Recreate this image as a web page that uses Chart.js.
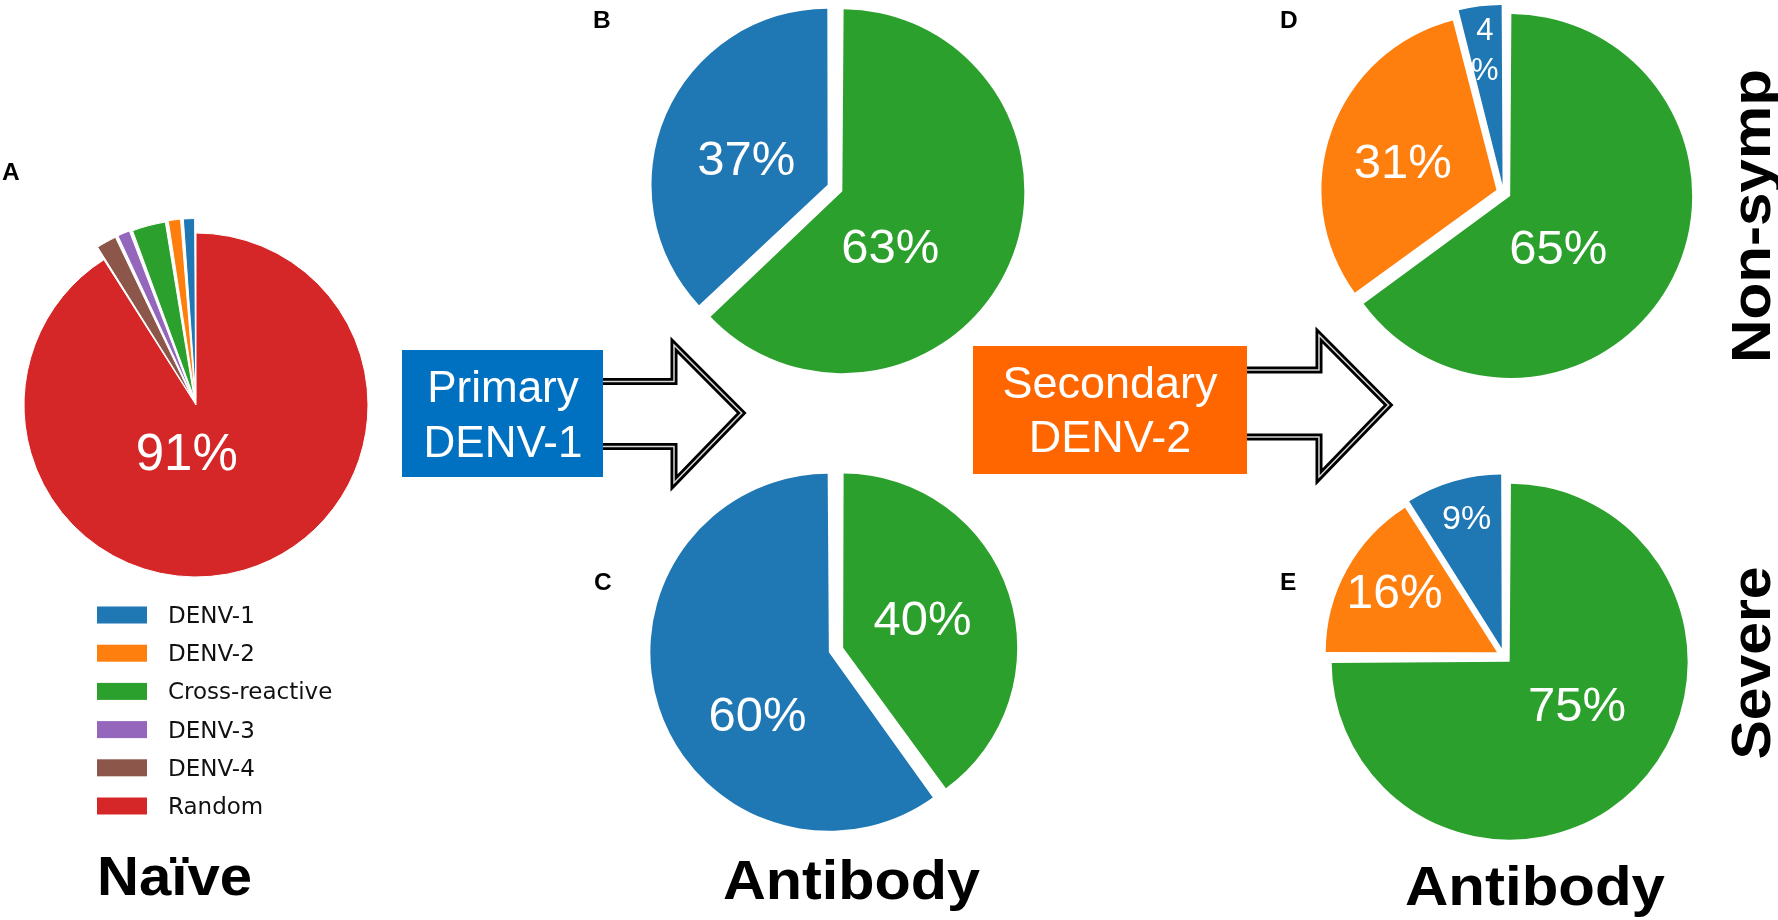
<!DOCTYPE html>
<html>
<head>
<meta charset="utf-8">
<title>Antibody repertoire pies</title>
<script src="https://cdn.jsdelivr.net/npm/chart.js@4.4.0/dist/chart.umd.min.js"></script>
<style>
  html, body { margin: 0; padding: 0; background: #fff; }
  #stage { position: relative; width: 1778px; height: 920px; overflow: hidden; background: #fff; }
  #stage canvas { position: absolute; }
  #overlay { position: absolute; left: 0; top: 0; pointer-events: none; }
  .sans { font-family: 'Liberation Sans', Arial, Helvetica, sans-serif; }
</style>
</head>
<body>
<div id="stage">
  <canvas id="pieA"></canvas>
  <canvas id="pieB"></canvas>
  <canvas id="pieC"></canvas>
  <canvas id="pieD"></canvas>
  <canvas id="pieE"></canvas>
  <svg id="overlay" width="1778" height="920" xmlns="http://www.w3.org/2000/svg">
    <!-- arrows (drawn before the boxes so the boxes cover the shaft ends) -->
    <g fill="#fff" stroke-linejoin="miter">
      <path d="M600,381.5 H674 V345 L741.7,413 L674,483 V446.5 H600" stroke="#000" stroke-width="7"/>
      <path d="M600,381.5 H674 V345 L741.7,413 L674,483 V446.5 H600" stroke="#d8d8d8" stroke-width="1.5" fill="none"/>
      <path d="M1244,370 H1319 V335 L1388.6,405 L1319,477 V437 H1244" stroke="#000" stroke-width="7"/>
      <path d="M1244,370 H1319 V335 L1388.6,405 L1319,477 V437 H1244" stroke="#d8d8d8" stroke-width="1.5" fill="none"/>
    </g>
    <!-- infection boxes -->
    <rect x="402" y="350" width="201" height="127" fill="#0070c0"/>
    <text class="sans" x="503" y="402" font-size="44" fill="#fff" text-anchor="middle">Primary</text>
    <text class="sans" x="503" y="457" font-size="44" fill="#fff" text-anchor="middle">DENV-1</text>
    <rect x="973" y="346" width="274" height="128" fill="#ff6600"/>
    <text class="sans" x="1110" y="398" font-size="45" fill="#fff" text-anchor="middle">Secondary</text>
    <text class="sans" x="1110" y="452" font-size="45" fill="#fff" text-anchor="middle">DENV-2</text>
    <!-- panel letters -->
    <g class="sans" font-size="24.5" font-weight="bold" fill="#000">
      <text x="2" y="180">A</text>
      <text x="593" y="28">B</text>
      <text x="594" y="590">C</text>
      <text x="1280" y="28">D</text>
      <text x="1280" y="590">E</text>
    </g>
    <!-- titles -->
    <g class="sans" font-size="56" font-weight="bold" fill="#000">
      <text x="97" y="895" textLength="155" lengthAdjust="spacingAndGlyphs">Naïve</text>
      <text x="851.5" y="899" text-anchor="middle" textLength="257" lengthAdjust="spacingAndGlyphs">Antibody</text>
      <text x="1535" y="905" text-anchor="middle" textLength="260" lengthAdjust="spacingAndGlyphs">Antibody</text>
      <text transform="translate(1770,216) rotate(-90)" text-anchor="middle" textLength="294" lengthAdjust="spacingAndGlyphs">Non-symp</text>
      <text transform="translate(1770,663) rotate(-90)" text-anchor="middle" textLength="193" lengthAdjust="spacingAndGlyphs">Severe</text>
    </g>
    <g id="legend"></g>
  </svg>
</div>
<script>
// categories, in legend order, with their colours
const categories = ['DENV-1', 'DENV-2', 'Cross-reactive', 'DENV-3', 'DENV-4', 'Random'];
const catColors = ['#1f77b4', '#ff7f0e', '#2ca02c', '#9467bd', '#8c564b', '#d62728'];

// A - naive repertoire (%)
const naiveVals = [1.2, 1.3, 3.2, 1.3, 2.0, 91.0];

// B / C - after primary DENV-1 infection (%)
const primaryCats = ['DENV-1', 'Cross-reactive'];
const primaryBVals = [37, 63];
const primaryCVals = [60, 40];

// D / E - after secondary DENV-2 infection (%)
const secondaryCats = ['DENV-1', 'DENV-2', 'Cross-reactive'];
const nonSympVals = [4, 31, 65];
const severeVals = [9, 16, 75];

function colorOf(cat) {
    return catColors[categories.indexOf(cat)];
}

// white percentage labels, placed as fractions of the pie radius from its centre
const pctLabels = {
    id: 'pctLabels',
    afterDatasetsDraw(chart, args, opts) {
        const meta = chart.getDatasetMeta(0);
        if (!meta.data.length || !opts.spots) return;
        const { x, y, outerRadius } = meta.data[0];
        const values = chart.data.datasets[0].data;
        const ctx = chart.ctx;
        ctx.save();
        ctx.fillStyle = '#fff';
        ctx.textAlign = 'center';
        ctx.textBaseline = 'middle';
        opts.spots.forEach(s => {
            const i = chart.data.labels.indexOf(s.cat);
            const txt = Math.round(values[i]);
            const px = x + s.at[0] * outerRadius;
            const py = y + s.at[1] * outerRadius;
            ctx.font = s.size + "px 'Liberation Sans', Arial, sans-serif";
            if (s.split) {
                ctx.fillText(String(txt), px, py);
                ctx.fillText('%', px, py + s.split * outerRadius);
            } else {
                ctx.fillText(txt + '%', px, py);
            }
        });
        ctx.restore();
    }
};

function makePie(id, cats, vals, cfg) {
    // reversed so the first category runs counter-clockwise from 12 o'clock
    const labels = cats.slice().reverse();
    const data = vals.slice().reverse();
    const size = Math.round(2 * (cfg.radius + 34));
    const canvas = document.getElementById(id);
    canvas.width = size;
    canvas.height = size;
    canvas.style.left = (cfg.cx - size / 2) + 'px';
    canvas.style.top = (cfg.cy - size / 2) + 'px';

    return new Chart(canvas, {
        type: 'pie',
        data: {
            labels: labels,
            datasets: [{
                data: data,
                backgroundColor: labels.map(colorOf),
                borderColor: '#fff',
                borderWidth: cfg.border,
                offset: labels.map(c => (cfg.explode.includes(c) ? cfg.offset : 0))
            }]
        },
        options: {
            responsive: false,
            animation: false,
            events: [],
            radius: cfg.radius,
            rotation: 0,
            layout: { padding: 0 },
            plugins: {
                legend: { display: false },
                tooltip: { enabled: false },
                pctLabels: { spots: cfg.spots }
            }
        },
        plugins: [pctLabels]
    });
}

makePie('pieA', categories, naiveVals, {
    cx: 196, cy: 405, radius: 172, border: 1, offset: 30,
    explode: ['DENV-1', 'DENV-2', 'Cross-reactive', 'DENV-3', 'DENV-4'],
    spots: [{ cat: 'Random', at: [-0.054, 0.299], size: 51 }]
});

makePie('pieB', primaryCats, primaryBVals, {
    cx: 834.7, cy: 188.3, radius: 174, border: 0, offset: 32,
    explode: primaryCats,
    spots: [
        { cat: 'DENV-1', at: [-0.51, -0.151], size: 49 },
        { cat: 'Cross-reactive', at: [0.318, 0.355], size: 49 }
    ]
});

makePie('pieC', primaryCats, primaryCVals, {
    cx: 835.5, cy: 650.2, radius: 171, border: 0, offset: 30,
    explode: primaryCats,
    spots: [
        { cat: 'Cross-reactive', at: [0.506, -0.165], size: 49 },
        { cat: 'DENV-1', at: [-0.459, 0.396], size: 49 }
    ]
});

makePie('pieD', secondaryCats, nonSympVals, {
    cx: 1503.7, cy: 192.3, radius: 174.5, border: 0, offset: 30,
    explode: secondaryCats,
    spots: [
        { cat: 'DENV-1', at: [-0.107, -0.924], size: 31, split: 0.232 },
        { cat: 'DENV-2', at: [-0.577, -0.159], size: 49 },
        { cat: 'Cross-reactive', at: [0.314, 0.331], size: 49 }
    ]
});

makePie('pieE', secondaryCats, severeVals, {
    cx: 1504.4, cy: 656, radius: 170, border: 0, offset: 32,
    explode: secondaryCats,
    spots: [
        { cat: 'DENV-1', at: [-0.22, -0.803], size: 34 },
        { cat: 'DENV-2', at: [-0.644, -0.359], size: 48 },
        { cat: 'Cross-reactive', at: [0.43, 0.303], size: 49 }
    ]
});

// legend for panel A, one row per category
const legend = document.getElementById('legend');
const NS = 'http://www.w3.org/2000/svg';
categories.forEach((cat, i) => {
    const rowY = 615 + i * 38.2;
    const patch = document.createElementNS(NS, 'rect');
    patch.setAttribute('x', 97);
    patch.setAttribute('y', rowY - 8.5);
    patch.setAttribute('width', 50);
    patch.setAttribute('height', 17);
    patch.setAttribute('fill', catColors[i]);
    legend.appendChild(patch);
    const label = document.createElementNS(NS, 'text');
    label.setAttribute('x', 168);
    label.setAttribute('y', rowY + 8);
    label.setAttribute('font-family', "'DejaVu Sans', sans-serif");
    label.setAttribute('font-size', 23);
    label.setAttribute('fill', '#111');
    label.textContent = cat;
    legend.appendChild(label);
});
</script>
</body>
</html>
